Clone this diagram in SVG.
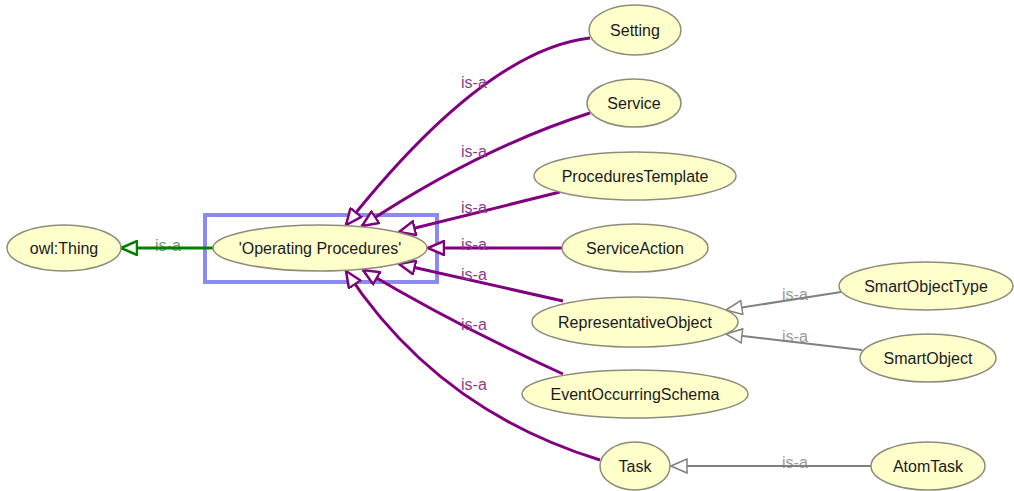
<svg xmlns="http://www.w3.org/2000/svg" width="1014" height="491" viewBox="0 0 1014 491">
<defs>
<style>
.node ellipse{fill:#ffffcc;stroke:#8c8c78;stroke-width:1.5}
.node text{font-family:"Liberation Sans",Arial,sans-serif;font-size:16px;fill:#1a1a1a;text-anchor:middle}
.e{fill:none}
.p{stroke:#800080;stroke-width:3}
.g{stroke:#008000;stroke-width:3}
.k{stroke:#808080;stroke-width:2}
.lbl{font-family:"Liberation Sans",Arial,sans-serif;font-size:16px}
.lp{fill:#8b3d8b}
.lg{fill:#6f9a6f}
.lk{fill:#9a9a9a}
</style>
<marker id="ap" viewBox="0 0 18 16" refX="17" refY="8" markerWidth="18" markerHeight="16" markerUnits="userSpaceOnUse" orient="auto">
<path d="M1,1 L17,8 L1,15 Z" fill="#ffffff" stroke="#800080" stroke-width="2.5"/>
</marker>
<marker id="ag" viewBox="0 0 18 16" refX="17" refY="8" markerWidth="18" markerHeight="16" markerUnits="userSpaceOnUse" orient="auto">
<path d="M1,1 L17,8 L1,15 Z" fill="#ffffff" stroke="#008000" stroke-width="2.5"/>
</marker>
<marker id="ak" viewBox="0 0 18 16" refX="17" refY="8" markerWidth="18" markerHeight="16" markerUnits="userSpaceOnUse" orient="auto">
<path d="M1,1 L17,8 L1,15 Z" fill="#ffffff" stroke="#808080" stroke-width="1.5"/>
</marker>
</defs>
<rect width="1014" height="491" fill="#ffffff"/>
<rect id="selection" x="205" y="215" width="232" height="67" fill="none" stroke="#8a8af2" stroke-width="4"/>
<g id="connectors">
<text class="lbl lg" x="155" y="251">is-a</text>
<path class="e g" d="M213,248 L121,248" marker-end="url(#ag)"/>
<path class="e p" d="M590,38 Q485,50 346,225" marker-end="url(#ap)"/>
<path class="e p" d="M590,113 Q480,148 362,226" marker-end="url(#ap)"/>
<path class="e p" d="M560,192 L399,232" marker-end="url(#ap)"/>
<path class="e p" d="M562,248 L428,248" marker-end="url(#ap)"/>
<path class="e p" d="M563,301 L399,264" marker-end="url(#ap)"/>
<path class="e p" d="M563,374 Q455,325 363,270" marker-end="url(#ap)"/>
<path class="e p" d="M600,460 Q437,410 346,271" marker-end="url(#ap)"/>
<text class="lbl lp" x="461" y="88">is-a</text>
<text class="lbl lp" x="461" y="157">is-a</text>
<text class="lbl lp" x="461" y="213">is-a</text>
<text class="lbl lp" x="461" y="250">is-a</text>
<text class="lbl lp" x="461" y="280">is-a</text>
<text class="lbl lp" x="461" y="330">is-a</text>
<text class="lbl lp" x="461" y="390">is-a</text>
<text class="lbl lk" x="782" y="300">is-a</text>
<text class="lbl lk" x="782" y="342">is-a</text>
<text class="lbl lk" x="782" y="468">is-a</text>
<path class="e k" d="M841,292 L726,310" marker-end="url(#ak)"/>
<path class="e k" d="M862,350 L726,334" marker-end="url(#ak)"/>
<path class="e k" d="M872,466 L671,466" marker-end="url(#ak)"/>
</g>
<g id="owlThing" class="node"><ellipse cx="64" cy="248" rx="57" ry="23"/><text x="64" y="254">owl:Thing</text></g>
<g id="operatingProcedures" class="node"><ellipse cx="320" cy="248" rx="107" ry="23"/><text x="320" y="254">'Operating Procedures'</text></g>
<g id="setting" class="node"><ellipse cx="635" cy="30" rx="46" ry="25"/><text x="635" y="36">Setting</text></g>
<g id="service" class="node"><ellipse cx="634" cy="103" rx="47" ry="24"/><text x="634" y="109">Service</text></g>
<g id="proceduresTemplate" class="node"><ellipse cx="635" cy="176" rx="101" ry="24"/><text x="635" y="182">ProceduresTemplate</text></g>
<g id="serviceAction" class="node"><ellipse cx="635" cy="248" rx="73" ry="24"/><text x="635" y="254">ServiceAction</text></g>
<g id="representativeObject" class="node"><ellipse cx="635" cy="322" rx="103" ry="25"/><text x="635" y="328">RepresentativeObject</text></g>
<g id="eventOccurringSchema" class="node"><ellipse cx="635" cy="394" rx="113" ry="24"/><text x="635" y="400">EventOccurringSchema</text></g>
<g id="task" class="node"><ellipse cx="635" cy="466" rx="35" ry="24"/><text x="635" y="472">Task</text></g>
<g id="smartObjectType" class="node"><ellipse cx="926" cy="286" rx="87" ry="24"/><text x="926" y="292">SmartObjectType</text></g>
<g id="smartObject" class="node"><ellipse cx="928" cy="358" rx="68" ry="24"/><text x="928" y="364">SmartObject</text></g>
<g id="atomTask" class="node"><ellipse cx="928" cy="466" rx="57" ry="24"/><text x="928" y="472">AtomTask</text></g>
</svg>
